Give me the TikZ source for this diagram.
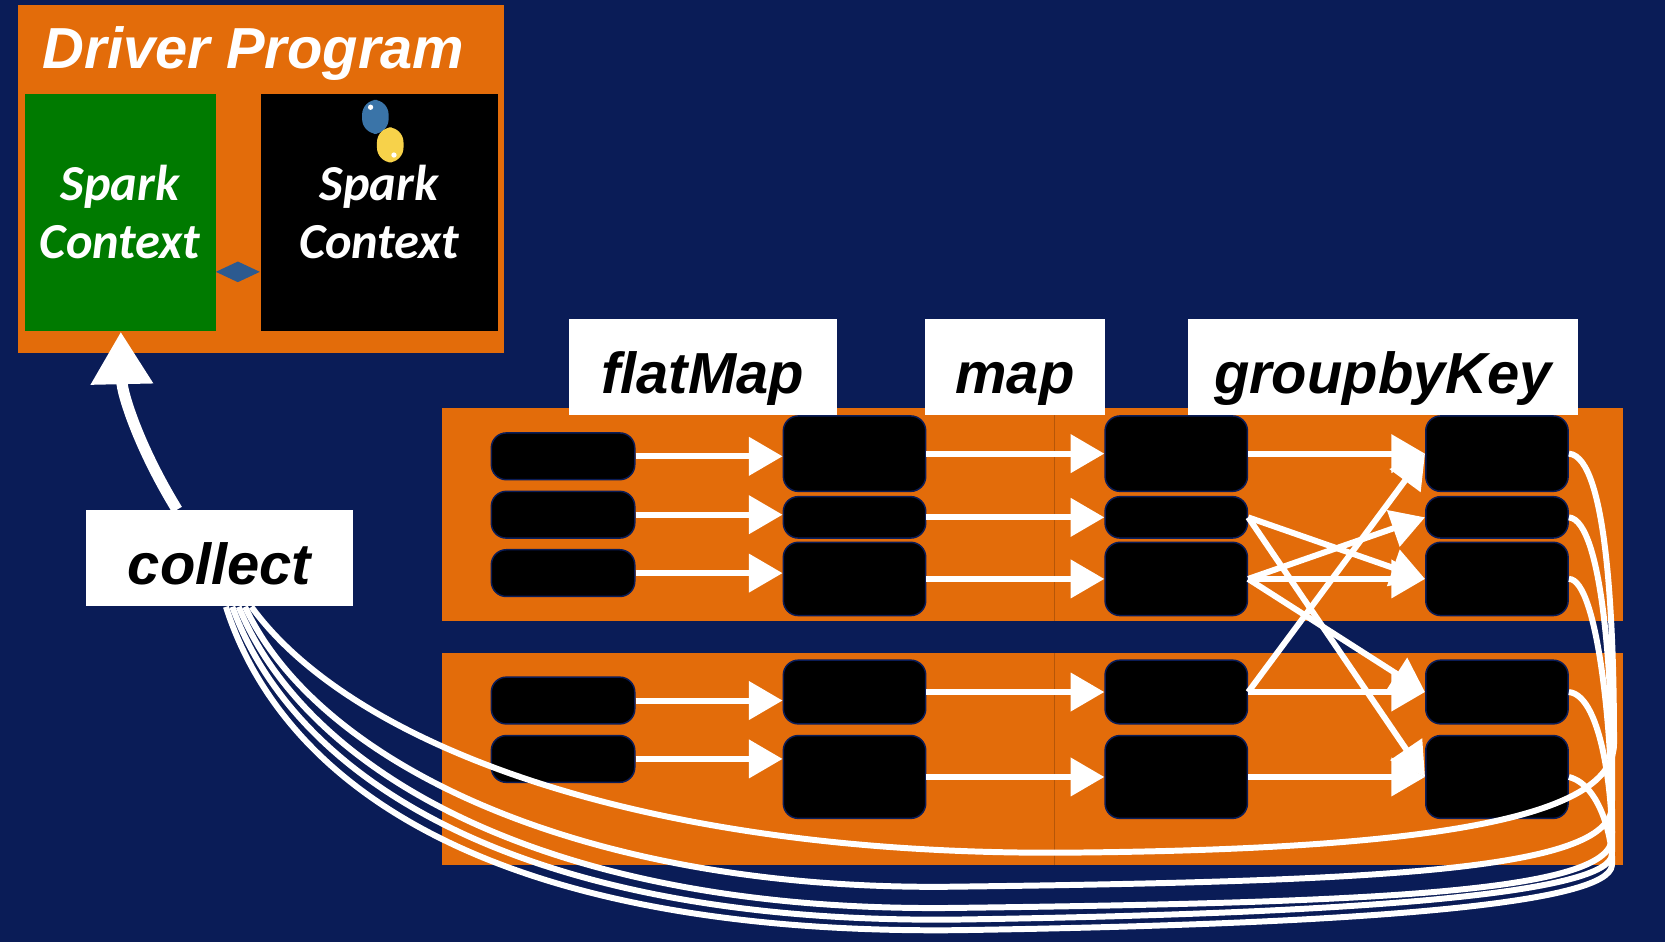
\documentclass[tikz,border=0pt]{standalone}
\usepackage{fontspec}
\setmainfont{Liberation Sans}
\newfontfamily\calfont{Carlito}
\usetikzlibrary{positioning,shapes.geometric,arrows.meta}
\definecolor{navy}{HTML}{0A1C57}
\definecolor{sparkorange}{HTML}{E36C0A}
\definecolor{sparkgreen}{HTML}{007A00}
\definecolor{pyblue}{HTML}{3A74A8}
\definecolor{pyyellow}{HTML}{F7D24A}
\tikzset{
  part/.style={draw=navy, fill=black, rounded corners=4pt, inner sep=0pt, anchor=north west},
  op/.style={fill=white, inner sep=0pt, anchor=north west, text height=0.6cm, text depth=0.1cm, font=\fontsize{15.5}{18}\selectfont\bfseries\itshape},
  ctx/.style={text=white, align=center, font=\fontsize{13.5}{15.5}\selectfont\calfont\bfseries\itshape},
  flow/.style={draw=white, line width=1.6pt, -{Triangle[length=9pt,width=10pt]}},
  back/.style={draw=white, line width=1.6pt},
}
\begin{document}
\begin{tikzpicture}[x=0.01cm,y=-0.01cm]
			%%%%% BACKGROUND %%%%%
			\fill[navy] (0,0) rectangle (1568,887);
			\useasboundingbox (0,0) rectangle (1568,887);
			
			%%%%% DRIVER %%%%%
			\fill[sparkorange] (17,5) rectangle (475,332);
			\node[anchor=west, text=white, font=\fontsize{15.5}{18}\selectfont\bfseries\itshape] (driver) at (28,50) {Driver Program};
			\node[fill=sparkgreen, minimum width=1.8cm, minimum height=2.23cm, inner sep=0pt, anchor=north west] (jsc) at (23,88) {};
			\node[fill=black, minimum width=2.23cm, minimum height=2.23cm, inner sep=0pt, anchor=north west] (pysc) at (245,88) {};
			\node[ctx] (jsctext) at (113,200) {Spark\\Context};
			\node[ctx] (pysctext) at (357,200) {Spark\\Context};
			\node[diamond, fill=pyblue!70!navy, minimum width=0.42cm, minimum height=0.2cm, inner sep=0pt, aspect=2.2] (link) at (224,256) {};
			% python logo
			\fill[pyblue, rounded corners=4pt] (341,94) rectangle (366,126);
			\fill[pyyellow, rounded corners=4pt] (355,120) rectangle (380,153);
			\fill[white] (349,101) circle (2.5);
			\fill[white] (371,146) circle (2.5);
			
			%%%%% STAGES %%%%%
			\fill[sparkorange] (416,384) rectangle (1528,585);
			\fill[sparkorange] (416,615) rectangle (1528,815);
			\draw[sparkorange!80!black, thin] (993,384) -- (993,585) (993,615) -- (993,815);
			\node[op, minimum width=2.52cm, minimum height=0.9cm] (flatmap) at (535,300) {flatMap};
			\node[op, minimum width=1.7cm, minimum height=0.9cm] (map) at (870,300) {map};
			\node[op, minimum width=3.67cm, minimum height=0.9cm] (groupby) at (1118,300) {groupbyKey};
			
			% input partitions
			\foreach \n/\y in {1/407,2/462,3/517,4/637,5/692}
				\node[part, minimum width=1.35cm, minimum height=0.44cm] (a\n) at (462,\y) {};
			% flatMap, map, groupbyKey partitions
			\foreach \c/\x in {b/737,c/1040,d/1342} {
				\foreach \n/\y/\h in {1/391/71,2/467/39,3/510/69,4/621/60,5/692/78}
					\node[part, minimum width=1.34cm, minimum height=\h*0.01cm] (\c\n) at (\x,\y) {};
			}
			
			\foreach \n in {1,...,5} {
				\draw[flow] (a\n.east) -- (a\n.east -| b\n.west);
				\draw[flow] (b\n.east) -- (c\n.west);
			}
			\draw[flow] (c1.east) -- (d1.west);
			\draw[flow] (c2.east) -- (d3.west);
			\draw[flow] (c2.east) -- (d5.west);
			\draw[flow] (c3.east) -- (d2.west);
			\draw[flow] (c3.east) -- (d3.west);
			\draw[flow] (c3.east) -- (d4.west);
			\draw[flow] (c4.east) -- (d1.west);
			\draw[flow] (c4.east) -- (d4.west);
			\draw[flow] (c5.east) -- (d5.west);
			
			%%%%% COLLECT %%%%%
			\node[op, minimum width=2.52cm, minimum height=0.9cm] (collect) at (80,480) {collect};
			\draw[back] (d1.east) .. controls (1515,430) and (1520,600) .. (1520,700) .. controls (1520,760) and (1400,800) .. (1000,803) .. controls (600,805) and (330,700) .. ([xshift=0.3cm]collect.south);
			\draw[back] (d2.east) .. controls (1510,490) and (1520,650) .. (1518,760) .. controls (1515,820) and (1300,830) .. (900,835) .. controls (550,840) and (300,720) .. ([xshift=0.24cm]collect.south);
			\draw[back] (d3.east) .. controls (1505,545) and (1520,700) .. (1518,790) .. controls (1515,840) and (1300,850) .. (900,855) .. controls (520,860) and (290,730) .. ([xshift=0.18cm]collect.south);
			\draw[back] (d4.east) .. controls (1510,655) and (1520,760) .. (1518,805) .. controls (1515,840) and (1300,860) .. (900,866) .. controls (500,870) and (280,740) .. ([xshift=0.12cm]collect.south);
			\draw[back] (d5.east) .. controls (1510,740) and (1520,800) .. (1518,815) .. controls (1515,850) and (1300,870) .. (900,876) .. controls (480,880) and (270,750) .. ([xshift=0.06cm]collect.south);
			\draw[white, line width=3pt, -{Triangle[length=14pt,width=16pt]}] ([xshift=-0.4cm]collect.north) .. controls (130,420) and (115,370) .. (jsc.south);
\end{tikzpicture}
\end{document}
